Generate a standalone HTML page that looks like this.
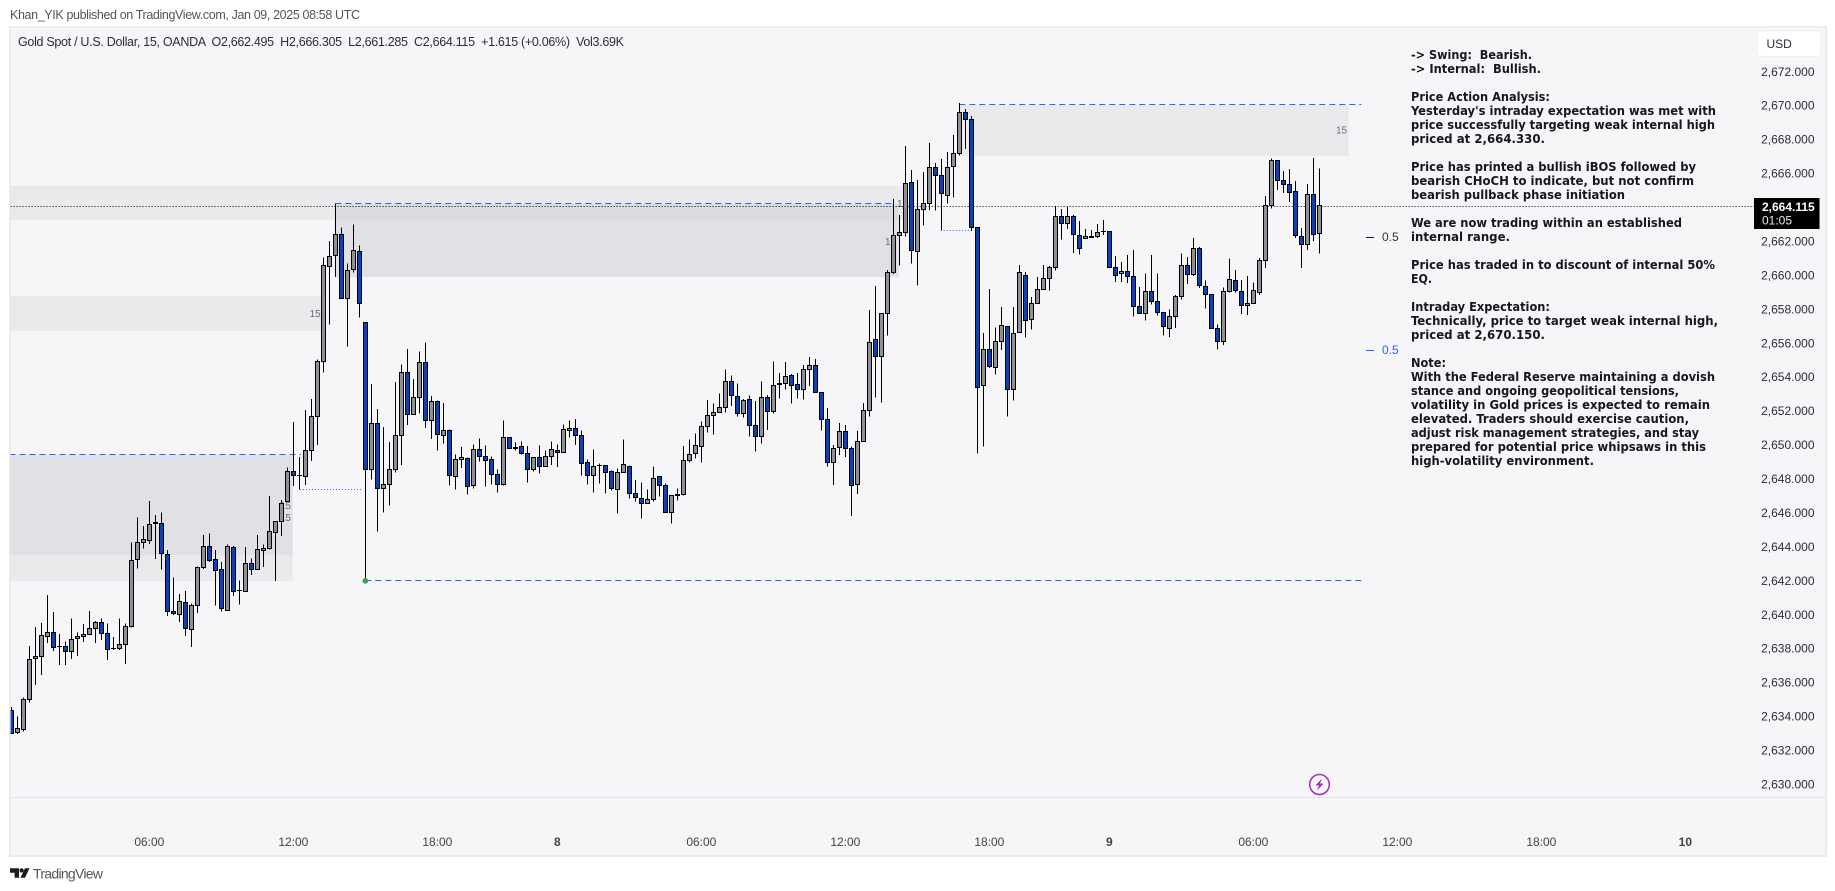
<!DOCTYPE html>
<html lang="en">
<head>
<meta charset="utf-8">
<title>Gold Spot / U.S. Dollar, 15, OANDA</title>
<style>
html,body{margin:0;padding:0;background:#fff;width:1835px;height:891px;overflow:hidden}
svg{display:block}
text{font-family:"Liberation Sans",sans-serif}
.note{font-family:"DejaVu Sans","Liberation Sans",sans-serif;font-size:12px;font-weight:700;font-stretch:condensed;fill:#17181c}
.tick{font-size:12px;fill:#2a2e39}
.tf{font-size:12px;fill:#444}
.lb15{font-size:10px;fill:#6a6d78}
</style>
</head>
<body>
<svg id="chart" xmlns="http://www.w3.org/2000/svg" width="1835" height="891" viewBox="0 0 1835 891">
  <text x="10" y="19" font-size="12.5" fill="#555" textLength="350">Khan_YIK published on TradingView.com, Jan 09, 2025 08:58 UTC</text>
  <rect x="9" y="26" width="1818" height="831" fill="#e9eaf0"/>
  <rect x="10.6" y="27.6" width="1814.4" height="827.6" fill="#f6f5f7"/>
  <line x1="10.6" x2="1825" y1="797.5" y2="797.5" stroke="#e3e4ec" stroke-width="1"/>
  <defs><clipPath id="plotClip"><rect x="10.6" y="27.6" width="1814" height="769"/></clipPath></defs>
  <g id="zones" clip-path="url(#plotClip)"></g>
  <g>
    <text class="lb15" x="1341.5" y="133.5" text-anchor="middle">15</text>
    <text class="lb15" x="315" y="317" text-anchor="middle">15</text>
    <text class="lb15" x="291" y="509" text-anchor="end">15</text>
    <text class="lb15" x="291" y="521" text-anchor="end">15</text>
    <text class="lb15" x="897" y="207">15</text>
    <text class="lb15" x="885" y="245">15</text>
  </g>
  <g id="levels" clip-path="url(#plotClip)"></g>
  <g id="candles" clip-path="url(#plotClip)"></g>
  <g id="overlay"></g>

  <text x="18" y="46" font-size="12.5" fill="#2a2e39" textLength="606" xml:space="preserve">Gold Spot / U.S. Dollar, 15, OANDA  O2,662.495  H2,666.305  L2,661.285  C2,664.115  +1.615 (+0.06%)  Vol3.69K</text>

  <g>
    <text class="note" x="1411" y="59" textLength="121" lengthAdjust="spacingAndGlyphs" xml:space="preserve">-&gt; Swing:  Bearish.</text>
    <text class="note" x="1411" y="73" textLength="130" lengthAdjust="spacingAndGlyphs" xml:space="preserve">-&gt; Internal:  Bullish.</text>
    <text class="note" x="1411" y="101" textLength="139" lengthAdjust="spacingAndGlyphs">Price Action Analysis:</text>
    <text class="note" x="1411" y="115" textLength="305" lengthAdjust="spacingAndGlyphs">Yesterday's intraday expectation was met with</text>
    <text class="note" x="1411" y="129" textLength="304" lengthAdjust="spacingAndGlyphs">price successfully targeting weak internal high</text>
    <text class="note" x="1411" y="143" textLength="134" lengthAdjust="spacingAndGlyphs">priced at 2,664.330.</text>
    <text class="note" x="1411" y="171" textLength="285" lengthAdjust="spacingAndGlyphs">Price has printed a bullish iBOS followed by</text>
    <text class="note" x="1411" y="185" textLength="283" lengthAdjust="spacingAndGlyphs">bearish CHoCH to indicate, but not confirm</text>
    <text class="note" x="1411" y="199" textLength="214" lengthAdjust="spacingAndGlyphs">bearish pullback phase initiation</text>
    <text class="note" x="1411" y="227" textLength="271" lengthAdjust="spacingAndGlyphs">We are now trading within an established</text>
    <text class="note" x="1411" y="241" textLength="99" lengthAdjust="spacingAndGlyphs">internal range.</text>
    <text class="note" x="1411" y="269" textLength="304" lengthAdjust="spacingAndGlyphs">Price has traded in to discount of internal 50%</text>
    <text class="note" x="1411" y="283" textLength="21" lengthAdjust="spacingAndGlyphs">EQ.</text>
    <text class="note" x="1411" y="311" textLength="139" lengthAdjust="spacingAndGlyphs">Intraday Expectation:</text>
    <text class="note" x="1411" y="325" textLength="307" lengthAdjust="spacingAndGlyphs">Technically, price to target weak internal high,</text>
    <text class="note" x="1411" y="339" textLength="134" lengthAdjust="spacingAndGlyphs">priced at 2,670.150.</text>
    <text class="note" x="1411" y="367" textLength="35" lengthAdjust="spacingAndGlyphs">Note:</text>
    <text class="note" x="1411" y="381" textLength="304" lengthAdjust="spacingAndGlyphs">With the Federal Reserve maintaining a dovish</text>
    <text class="note" x="1411" y="395" textLength="268" lengthAdjust="spacingAndGlyphs">stance and ongoing geopolitical tensions,</text>
    <text class="note" x="1411" y="409" textLength="299" lengthAdjust="spacingAndGlyphs">volatility in Gold prices is expected to remain</text>
    <text class="note" x="1411" y="423" textLength="278" lengthAdjust="spacingAndGlyphs">elevated. Traders should exercise caution,</text>
    <text class="note" x="1411" y="437" textLength="288" lengthAdjust="spacingAndGlyphs">adjust risk management strategies, and stay</text>
    <text class="note" x="1411" y="451" textLength="295" lengthAdjust="spacingAndGlyphs">prepared for potential price whipsaws in this</text>
    <text class="note" x="1411" y="465" textLength="183" lengthAdjust="spacingAndGlyphs">high-volatility environment.</text>
  </g>

  <g id="priceAxis"></g>
  <g id="timeAxis"></g>

  <g>
    <rect x="1757" y="31" width="64" height="25.5" rx="4" fill="#fff" stroke="#eeeff3"/>
    <text x="1766.5" y="48" font-size="12" fill="#2a2e39">USD</text>
  </g>

  <g>
    <rect x="1754" y="198" width="65.5" height="31" fill="#000"/>
    <text x="1762" y="211" font-size="12" font-weight="700" fill="#fff">2,664.115</text>
    <text x="1762" y="224.5" font-size="12" fill="#e8e8e8">01:05</text>
  </g>

  <g>
    <ellipse cx="1319.5" cy="784.5" rx="9.8" ry="10" fill="none" stroke="#a32db8" stroke-width="1.5"/>
    <polygon points="1322,778.5 1315.5,785.5 1319,785.5 1317,790.5 1323.5,783.5 1320,783.5" fill="#a32db8"/>
  </g>

  <g>
    <polygon points="10,868.3 19,868.3 19,877.7 14.6,877.7 14.6,872.7 10,872.7" fill="#1b1c20"/>
    <circle cx="21.6" cy="870.4" r="2.1" fill="#1b1c20"/>
    <polygon points="25,868.3 29.5,868.3 25,877.7 20.4,877.7" fill="#1b1c20"/>
    <text x="33" y="878.5" font-size="14" fill="#555" textLength="70">TradingView</text>
  </g>
</svg>

<script>
const opens=[
2634.37,2633.05,2633.25,2635.02,2637.41,2637.55,2638.73,2638.96,2638.12,2638.14,
2637.85,2638.61,2638.73,2638.85,2639.20,2639.55,2638.91,2638.02,2638.02,2638.26,
2639.32,2643.27,2644.27,2644.39,2645.45,2645.39,2643.56,2640.21,2640.03,2640.74,
2639.15,2640.56,2642.80,2644.04,2643.27,2642.68,2640.27,2643.98,2641.44,2641.38,
2643.03,2642.68,2643.80,2643.92,2644.86,2645.51,2646.69,2648.46,2648.18,2648.16,
2649.69,2651.70,2654.92,2660.51,2661.18,2662.42,2658.65,2660.36,2661.42,2657.23,
2648.57,2651.28,2647.45,2647.69,2648.57,2650.56,2654.29,2651.81,2652.81,2654.88,
2651.46,2652.58,2650.58,2650.87,2648.16,2649.16,2649.22,2647.63,2649.75,2649.34,
2649.16,2648.28,2647.69,2650.46,2649.87,2649.93,2649.52,2648.57,2649.28,2648.75,
2649.34,2649.69,2649.57,2650.87,2650.99,2650.58,2648.98,2648.22,2648.79,2648.81,
2648.45,2647.39,2648.40,2648.75,2647.16,2646.86,2646.57,2646.81,2648.16,2647.63,
2646.04,2647.04,2647.10,2649.10,2649.52,2649.93,2651.11,2651.75,2651.93,2652.23,
2653.76,2652.87,2651.87,2652.70,2651.17,2650.52,2652.81,2652.00,2653.59,2653.65,
2654.12,2653.59,2653.29,2654.47,2654.71,2653.12,2651.53,2648.97,2649.88,2650.82,
2649.81,2647.67,2650.23,2652.06,2656.24,2655.24,2657.77,2660.19,2662.37,2662.54,
2665.49,2661.42,2663.90,2664.25,2666.37,2665.90,2664.72,2666.43,2667.20,2669.61,
2669.20,2662.84,2653.53,2655.65,2654.59,2656.12,2657.00,2653.29,2656.65,2660.01,
2657.42,2658.36,2659.19,2659.83,2660.48,2663.49,2663.07,2663.49,2662.37,2662.19,
2662.31,2662.31,2662.60,2662.60,2660.48,2660.12,2660.24,2659.95,2658.18,2657.77,
2659.06,2658.48,2657.83,2656.88,2657.59,2658.77,2660.60,2660.07,2661.60,2659.36,
2658.89,2656.88,2656.12,2659.06,2659.71,2659.06,2658.24,2658.36,2659.01,2660.89,
2664.13,2666.78,2665.60,2665.37,2664.96,2662.30,2661.83,2664.78,2662.495];
const highs=[
2634.57,2634.02,2635.12,2638.16,2639.28,2639.51,2641.16,2640.16,2638.87,2638.43,
2639.79,2638.96,2639.46,2640.22,2639.63,2639.79,2639.49,2638.69,2639.79,2639.49,
2644.27,2645.74,2645.23,2646.71,2645.88,2646.04,2643.82,2642.21,2641.23,2641.40,
2640.68,2642.84,2644.70,2644.80,2643.82,2643.11,2644.15,2644.04,2642.03,2644.00,
2643.33,2644.70,2644.15,2647.00,2645.51,2646.77,2648.69,2651.36,2649.30,2652.07,
2652.72,2655.05,2661.06,2662.03,2664.25,2662.83,2660.71,2663.01,2661.77,2657.23,
2653.60,2652.13,2651.07,2650.18,2653.72,2654.76,2655.66,2653.89,2655.53,2656.06,
2652.89,2652.64,2652.48,2650.93,2649.46,2649.89,2649.28,2650.05,2650.40,2649.99,
2649.34,2648.57,2651.46,2650.46,2650.16,2650.22,2649.95,2649.28,2649.99,2649.69,
2650.22,2650.05,2651.22,2651.46,2651.54,2650.87,2649.16,2649.75,2648.93,2648.81,
2648.51,2648.63,2650.34,2648.81,2647.94,2647.81,2647.39,2648.75,2648.16,2647.75,
2647.04,2647.45,2649.95,2650.34,2650.69,2651.40,2652.66,2652.46,2653.05,2654.46,
2654.11,2653.64,2652.72,2652.93,2652.60,2653.76,2652.95,2654.94,2654.24,2654.90,
2654.18,2654.24,2654.71,2655.20,2655.08,2653.12,2652.19,2650.00,2651.31,2651.19,
2649.91,2650.84,2652.49,2657.97,2659.38,2657.77,2660.32,2664.51,2663.55,2667.63,
2666.22,2665.63,2666.10,2667.81,2666.63,2666.86,2667.28,2668.28,2670.15,2669.81,
2669.40,2662.84,2656.61,2659.20,2656.93,2658.14,2657.02,2658.14,2660.62,2660.19,
2658.73,2659.91,2660.60,2660.54,2664.08,2663.92,2664.04,2663.55,2663.21,2662.74,
2662.68,2663.03,2663.27,2662.60,2661.15,2660.79,2661.20,2661.50,2659.32,2660.12,
2661.20,2660.12,2657.83,2658.00,2658.85,2661.30,2661.07,2662.19,2661.68,2659.71,
2658.89,2657.12,2659.30,2661.01,2660.32,2659.73,2659.97,2659.59,2661.03,2664.68,
2666.90,2666.78,2666.15,2666.27,2665.55,2662.80,2665.39,2666.92,2666.305];
const lows=[
2632.99,2632.99,2633.11,2634.82,2635.86,2636.45,2638.34,2637.86,2637.04,2637.04,
2637.39,2637.57,2638.40,2638.81,2638.34,2638.51,2637.33,2637.92,2637.92,2637.10,
2639.24,2642.74,2643.92,2644.17,2643.29,2642.68,2639.93,2639.99,2639.58,2638.75,
2638.10,2640.11,2642.70,2643.11,2640.54,2640.19,2640.25,2641.11,2640.62,2641.35,
2642.35,2642.64,2642.82,2643.86,2641.99,2644.64,2646.67,2647.59,2647.39,2647.65,
2649.06,2650.01,2654.27,2657.10,2659.92,2658.65,2655.80,2660.16,2657.51,2642.00,
2647.98,2644.90,2646.02,2646.43,2648.38,2648.83,2651.18,2651.81,2651.87,2651.01,
2650.36,2649.67,2650.10,2647.61,2647.37,2648.65,2647.08,2647.43,2649.02,2647.55,
2647.67,2647.20,2647.61,2649.81,2649.67,2649.46,2647.79,2648.43,2648.32,2648.73,
2648.83,2648.71,2649.55,2650.44,2650.01,2648.20,2647.67,2647.20,2647.73,2647.14,
2647.32,2645.96,2648.38,2646.84,2646.67,2645.67,2646.55,2646.69,2646.96,2646.04,
2645.37,2646.73,2647.04,2648.97,2649.20,2648.97,2650.75,2650.62,2651.89,2651.93,
2652.30,2651.68,2651.62,2650.50,2649.61,2650.08,2650.89,2651.86,2652.74,2653.27,
2652.45,2652.74,2652.68,2653.49,2653.10,2650.86,2648.73,2647.65,2649.42,2649.29,
2645.82,2647.12,2650.23,2651.68,2652.80,2652.51,2656.46,2660.07,2660.58,2662.29,
2660.70,2659.40,2662.94,2663.86,2663.82,2662.68,2664.23,2664.59,2667.06,2667.45,
2662.62,2649.50,2649.92,2654.53,2654.16,2655.59,2651.68,2652.63,2656.65,2656.34,
2656.81,2658.36,2659.19,2659.11,2660.29,2662.11,2662.72,2661.31,2661.23,2662.19,
2662.19,2662.19,2662.38,2660.48,2659.61,2659.61,2659.56,2657.57,2657.77,2657.34,
2658.28,2657.65,2656.45,2656.37,2656.90,2658.57,2659.50,2659.97,2659.26,2658.04,
2656.88,2655.63,2655.90,2658.99,2658.99,2657.73,2657.67,2658.34,2658.85,2660.44,
2663.95,2665.03,2664.86,2664.33,2662.21,2660.44,2661.50,2662.03,2661.285];
const closes=[
2633.03,2633.31,2635.02,2637.37,2637.55,2638.79,2638.96,2638.08,2638.14,2637.85,
2638.55,2638.73,2638.85,2639.20,2639.55,2638.91,2637.96,2638.00,2638.26,2639.32,
2643.21,2644.27,2644.45,2645.33,2645.37,2643.62,2640.21,2640.09,2640.80,2639.20,
2640.56,2642.80,2644.04,2643.21,2642.62,2640.38,2644.04,2641.38,2641.42,2643.03,
2642.68,2643.86,2643.92,2644.92,2645.51,2646.57,2648.46,2648.20,2648.22,2649.69,
2651.70,2654.94,2660.57,2661.12,2662.42,2658.65,2660.30,2661.48,2658.35,2648.57,
2651.28,2647.45,2647.69,2648.57,2650.58,2654.29,2651.81,2652.81,2654.88,2651.46,
2652.58,2650.63,2650.87,2648.22,2649.16,2649.28,2647.57,2649.75,2649.34,2649.10,
2648.28,2647.69,2650.46,2649.81,2649.81,2649.52,2648.57,2649.28,2648.75,2649.34,
2649.75,2649.57,2650.93,2650.99,2650.58,2648.93,2648.22,2648.75,2648.81,2648.40,
2647.45,2648.40,2648.87,2647.16,2646.92,2646.57,2646.81,2648.04,2647.63,2646.04,
2647.04,2647.06,2649.10,2649.46,2649.99,2651.11,2651.75,2651.93,2652.23,2653.76,
2652.93,2651.87,2652.64,2651.17,2650.52,2652.81,2651.99,2653.53,2653.65,2654.06,
2653.53,2653.29,2654.47,2654.71,2653.12,2651.53,2648.97,2649.81,2650.82,2649.82,
2647.63,2650.23,2652.06,2656.06,2655.24,2657.77,2660.19,2662.37,2662.54,2665.43,
2661.48,2663.90,2664.25,2666.37,2665.90,2664.84,2666.37,2667.20,2669.61,2669.20,
2662.84,2653.41,2655.65,2654.65,2656.12,2657.06,2653.29,2656.59,2660.19,2657.36,
2658.36,2659.19,2659.83,2660.48,2663.49,2663.07,2663.49,2662.43,2661.60,2662.31,
2662.25,2662.54,2662.58,2660.48,2660.01,2660.24,2659.95,2658.18,2657.77,2659.06,
2658.48,2657.83,2657.00,2657.59,2658.77,2660.60,2660.07,2661.60,2659.42,2658.89,
2656.88,2656.12,2659.06,2659.77,2659.12,2658.24,2658.36,2659.12,2660.89,2664.13,
2666.78,2665.60,2665.37,2664.90,2662.36,2661.83,2664.78,2662.42,2664.115];

const priceTicks=[2630,2632,2634,2636,2638,2640,2642,2644,2646,2648,2650,2652,2654,2656,2658,2660,2662,2664,2666,2668,2670,2672];
const priceTickLabels=["2,630.000","2,632.000","2,634.000","2,636.000","2,638.000","2,640.000","2,642.000","2,644.000","2,646.000","2,648.000","2,650.000","2,652.000","2,654.000","2,656.000","2,658.000","2,660.000","2,662.000","2,664.000","2,666.000","2,668.000","2,670.000","2,672.000"];
const timeTickBars=[23,47,71,91,115,139,163,183,207,231,255,279];
const timeTickLabels=["06:00","12:00","18:00","8","06:00","12:00","18:00","9","06:00","12:00","18:00","10"];

// Zones: bar span and price span of each supply/demand block
const zoneStartBars=[-0.3,53.9,-0.3,-0.3,-0.3,157.9];
const zoneEndBars=[148.6,147.9,51.8,46.9,46.9,222.9];
const zoneHighPrices=[2665.27,2664.21,2658.79,2649.42,2643.52,2670.04];
const zoneLowPrices=[2663.27,2659.91,2656.72,2643.52,2642.00,2667.05];
const zoneShades=["light","dark","light","dark","light","light"];

// Structure levels: dashed swing lines and dotted break lines
const levelStartBars=[-0.3,54,158,59,48.1,154.9];
const levelEndBars=[48.3,147,225,225,58.6,160];
const levelPrices=[2649.45,2664.25,2670.09,2642.00,2647.40,2662.66];
const levelStyles=["dash","dash","dash","dash","dot","dot"];

const eqPrices=[2662.25,2655.59];
const eqColors=["#131722","#2962ff"];
const eqLabels=["0.5","0.5"];
const sweepLowPrice=2642.00;
const sweepLowBar=59;

const SVG_NS='http://www.w3.org/2000/svg';
const xScale=function(bar){return 11.33+6*bar;};
const yScale=function(price){return 784.5-(price-2630)*16.97;};
const crisp=function(v){return Math.floor(v)+0.5;};
const lastClose=closes[closes.length-1];

const zonesG=document.getElementById('zones');
zoneStartBars.forEach(function(startBar,i){
  const el=document.createElementNS(SVG_NS,'rect');
  
  
  el.setAttribute('x',xScale(startBar));
  el.setAttribute('y',yScale(zoneHighPrices[i]));
  el.setAttribute('width',xScale(zoneEndBars[i])-xScale(startBar));
  el.setAttribute('height',yScale(zoneLowPrices[i])-yScale(zoneHighPrices[i]));
  el.setAttribute('fill',zoneShades[i]==='dark'?'rgba(207,209,214,0.545)':'rgba(120,123,134,0.09)');
  zonesG.appendChild(el);
});

const levelsG=document.getElementById('levels');
levelStartBars.forEach(function(startBar,i){
  const el=document.createElementNS(SVG_NS,'line');
  
  
  const y=crisp(yScale(levelPrices[i]));
  el.setAttribute('x1',xScale(startBar));
  el.setAttribute('x2',xScale(levelEndBars[i]));
  el.setAttribute('y1',y);
  el.setAttribute('y2',y);
  el.setAttribute('stroke','#2962ff');
  el.setAttribute('stroke-width','1');
  el.setAttribute('stroke-dasharray',levelStyles[i]==='dash'?'6 4':'1 2');
  levelsG.appendChild(el);
});

const lastLine=document.createElementNS(SVG_NS,'line');


const lastY=crisp(yScale(lastClose)+0.7);
lastLine.setAttribute('x1',10.6);
lastLine.setAttribute('x2',1754);
lastLine.setAttribute('y1',lastY);
lastLine.setAttribute('y2',lastY);
lastLine.setAttribute('stroke','#000');
lastLine.setAttribute('stroke-width','1');
lastLine.setAttribute('stroke-dasharray','1 2');
levelsG.appendChild(lastLine);

const candlesG=document.getElementById('candles');
opens.forEach(function(open,i){
  const x=crisp(xScale(i));
  const up=closes[i]>=open;
  const top=crisp(yScale(Math.max(open,closes[i])));
  const bot=crisp(yScale(Math.min(open,closes[i])));
  const g=document.createElementNS(SVG_NS,'g');
  
  
  const wick=document.createElementNS(SVG_NS,'line');
  
  
  wick.setAttribute('x1',x);
  wick.setAttribute('x2',x);
  wick.setAttribute('y1',yScale(highs[i]));
  wick.setAttribute('y2',yScale(lows[i]));
  wick.setAttribute('stroke','#000');
  wick.setAttribute('stroke-width','1');
  wick.setAttribute('shape-rendering','crispEdges');
  g.appendChild(wick);
  const body=document.createElementNS(SVG_NS,'rect');
  
  
  body.setAttribute('x',x-2);
  body.setAttribute('y',top);
  body.setAttribute('width',4);
  body.setAttribute('height',Math.max(bot-top,0.01));
  body.setAttribute('fill',up?'#8e9197':'#0e3fc2');
  body.setAttribute('stroke','#000');
  body.setAttribute('stroke-width','1');
  body.setAttribute('shape-rendering','crispEdges');
  g.appendChild(body);
  candlesG.appendChild(g);
});

const overlayG=document.getElementById('overlay');
const sweepDot=document.createElementNS(SVG_NS,'circle');


sweepDot.setAttribute('cx',xScale(sweepLowBar));
sweepDot.setAttribute('cy',yScale(sweepLowPrice));
sweepDot.setAttribute('r',2.8);
sweepDot.setAttribute('fill','#3f9e5f');
overlayG.appendChild(sweepDot);

eqPrices.forEach(function(price,i){
  const y=crisp(yScale(price));
  const dash=document.createElementNS(SVG_NS,'line');
  
  
  dash.setAttribute('x1',1366);
  dash.setAttribute('x2',1374);
  dash.setAttribute('y1',y);
  dash.setAttribute('y2',y);
  dash.setAttribute('stroke',eqColors[i]);
  dash.setAttribute('stroke-width','1');
  overlayG.appendChild(dash);
  const label=document.createElementNS(SVG_NS,'text');
  
  
  label.setAttribute('x',1382);
  label.setAttribute('y',y+3.5);
  label.setAttribute('font-size','12');
  label.setAttribute('fill',eqColors[i]==='#131722'?'#333':eqColors[i]);
  label.textContent=eqLabels[i];
  overlayG.appendChild(label);
});

const priceAxisG=document.getElementById('priceAxis');
priceTicks.forEach(function(price,i){
  const t=document.createElementNS(SVG_NS,'text');
  
  
  t.setAttribute('class','tick');
  t.setAttribute('x',1814.5);
  t.setAttribute('y',yScale(price)+4);
  t.setAttribute('text-anchor','end');
  t.textContent=priceTickLabels[i];
  priceAxisG.appendChild(t);
});

const timeAxisG=document.getElementById('timeAxis');
timeTickBars.forEach(function(bar,i){
  const t=document.createElementNS(SVG_NS,'text');
  
  
  t.setAttribute('class','tf');
  t.setAttribute('x',xScale(bar));
  t.setAttribute('y',846);
  t.setAttribute('text-anchor','middle');
  if(timeTickLabels[i].length<3){t.setAttribute('font-weight','700');}
  t.textContent=timeTickLabels[i];
  timeAxisG.appendChild(t);
});
</script>
</body>
</html>
